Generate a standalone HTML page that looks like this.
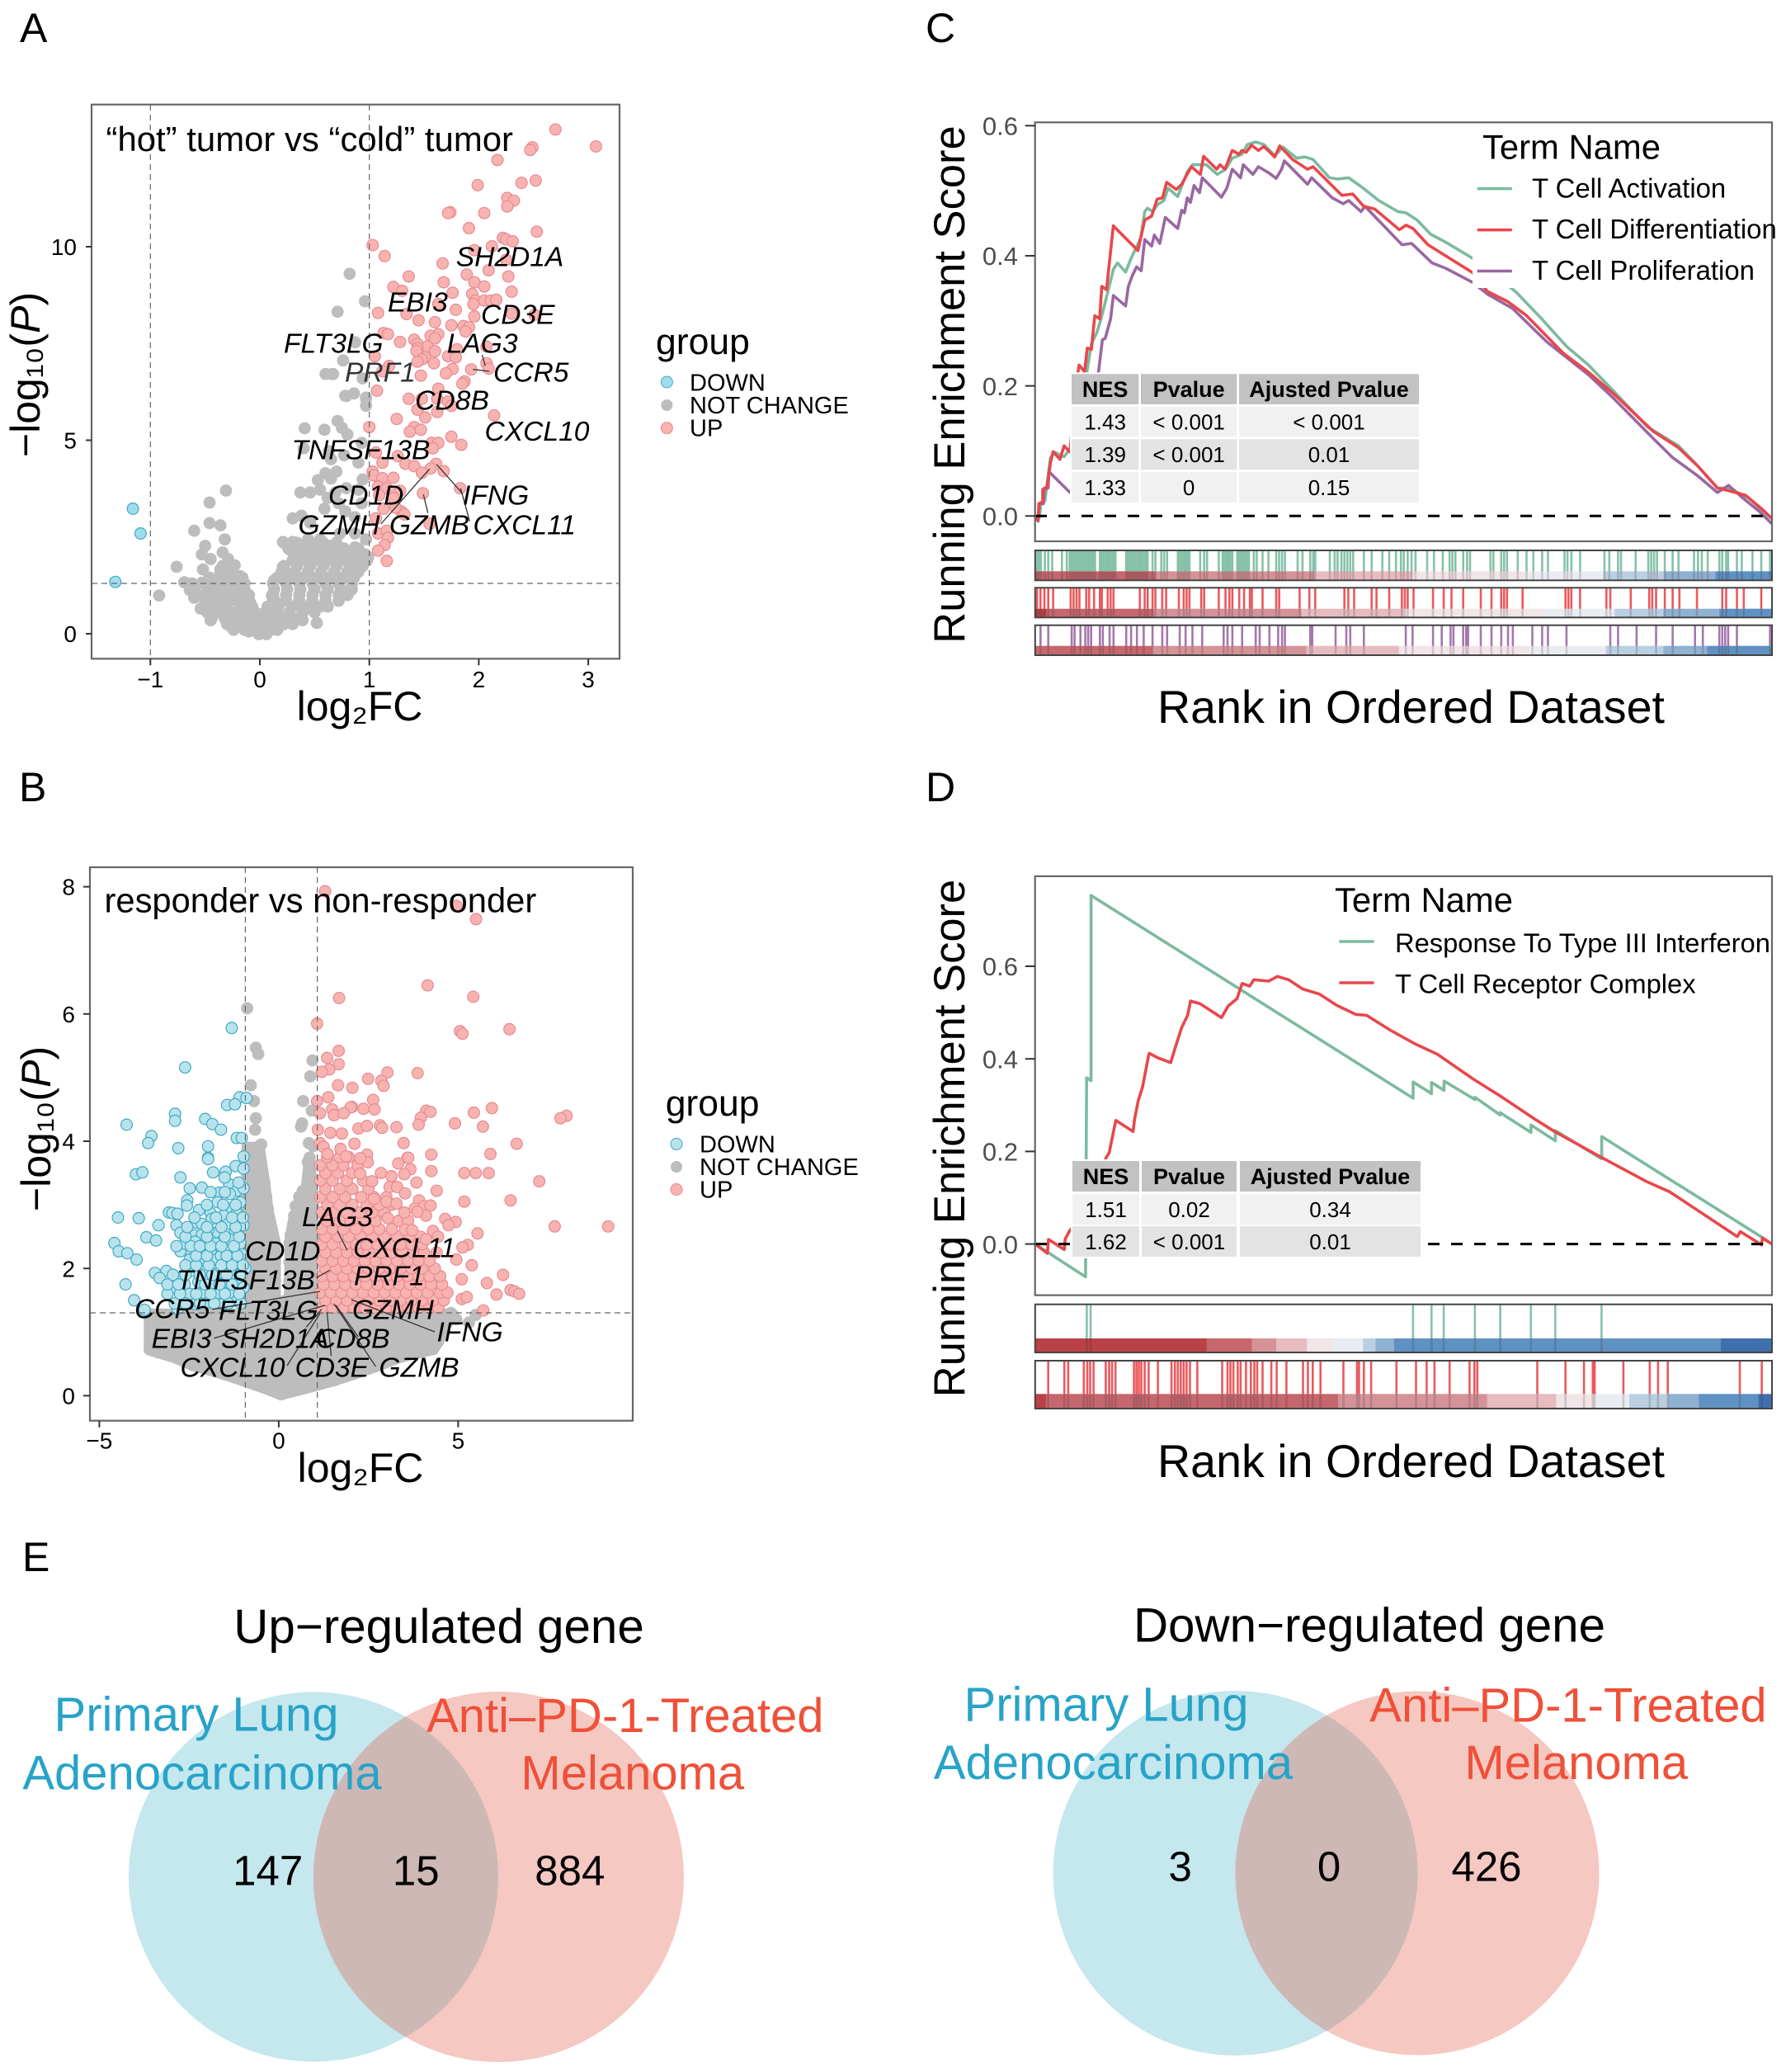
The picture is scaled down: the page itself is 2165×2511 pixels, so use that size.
<!DOCTYPE html>
<html lang="en">
<head>
<meta charset="utf-8">
<title>Volcano plots, GSEA curves and Venn diagrams</title>
<style>
html,body{margin:0;padding:0;background:#fff}
svg{display:block;font-family:"Liberation Sans",sans-serif}
.gene{font-style:italic;font-size:33.6px;fill:#000}
.lead{stroke:#333;stroke-width:1.3;fill:none}
.dash{stroke:#666;stroke-width:1.2;stroke-dasharray:7 5}
.frame{fill:none;stroke:#666;stroke-width:2.2}
.leg{font-size:29px;fill:#000}
.venn-a{font-size:58px;fill:#27a3c8}
.venn-b{font-size:58px;fill:#ef5038}
.vnum{font-size:51px;fill:#000;text-anchor:middle}
.mid{text-anchor:middle}
</style>
</head>
<body>
<svg id="figure" xmlns="http://www.w3.org/2000/svg" width="2165" height="2511" viewBox="0 0 2165 2511">
<rect x="0" y="0" width="2165" height="2511" fill="#fff"/>

<text x="24" y="51" font-size="50">A</text>
<text x="23" y="971" font-size="50">B</text>
<text x="1122" y="51" font-size="50">C</text>
<text x="1122" y="971" font-size="50">D</text>
<text x="27" y="1904" font-size="50">E</text>

<!-- Panel A -->
<g id="a-marks"></g>
<line class="dash" x1="182.3" y1="127" x2="182.3" y2="798"/>
<line class="dash" x1="447.7" y1="127" x2="447.7" y2="798"/>
<line class="dash" x1="111" y1="707" x2="751" y2="707"/>
<rect class="frame" x="111" y="126.7" width="640" height="671.6"/>
<g id="a-axes"></g>
<text x="128.5" y="183" font-size="41.9">“hot” tumor vs “cold” tumor</text>
<text class="mid" x="436" y="873" font-size="50">log₂FC</text>
<text class="mid" transform="rotate(-90 48 454)" x="48" y="454" font-size="50">−log₁₀(<tspan font-style="italic">P</tspan>)</text>
<g>
<line class="lead" x1="520.7" y1="568.3" x2="461.7" y2="635"/>
<line class="lead" x1="529.3" y1="562.7" x2="560.7" y2="598.3"/>
<line class="lead" x1="558.3" y1="591.7" x2="569.3" y2="631.7"/>
<line class="lead" x1="513.3" y1="599.3" x2="518.7" y2="621.7"/>
<line class="lead" x1="584.3" y1="430" x2="588.3" y2="443.3"/>
<line class="lead" x1="573.3" y1="447.7" x2="593.3" y2="450"/>
</g>
<g>
<text class="gene" x="552.7" y="322.3">SH2D1A</text>
<text class="gene" x="470" y="377.3">EBI3</text>
<text class="gene" x="583" y="392.3">CD3E</text>
<text class="gene" x="541.7" y="427.3">LAG3</text>
<text class="gene" x="344" y="427.3">FLT3LG</text>
<text class="gene" x="418" y="462.3" style="fill:#333">PRF1</text>
<text class="gene" x="598" y="462.3">CCR5</text>
<text class="gene" x="503.3" y="496.7">CD8B</text>
<text class="gene" x="587.5" y="534">CXCL10</text>
<text class="gene" x="353.5" y="556.7">TNFSF13B</text>
<text class="gene" x="398" y="611.7">CD1D</text>
<text class="gene" x="561" y="611.7">IFNG</text>
<text class="gene" x="361.5" y="647.3">GZMH</text>
<text class="gene" x="472" y="647.3">GZMB</text>
<text class="gene" x="573.5" y="647.3">CXCL11</text>
</g>
<g>
<text x="795" y="429" font-size="44.5">group</text>
<circle cx="808.4" cy="463" r="7" fill="#9fdcec" stroke="#3fa9c4"/>
<circle cx="808.4" cy="491" r="7" fill="#bdbdbd"/>
<circle cx="808.4" cy="518.7" r="7" fill="#f7b3b0" stroke="#e88a92"/>
<text class="leg" x="836" y="473.5">DOWN</text>
<text class="leg" x="836" y="501">NOT CHANGE</text>
<text class="leg" x="836" y="528.7">UP</text>
</g>

<!-- Panel B -->
<g id="b-marks"></g>
<line class="dash" x1="297.4" y1="1051" x2="297.4" y2="1721.7"/>
<line class="dash" x1="384.6" y1="1051" x2="384.6" y2="1721.7"/>
<line class="dash" x1="109" y1="1591" x2="767" y2="1591"/>
<rect class="frame" x="109" y="1051" width="658" height="670.7"/>
<g id="b-axes"></g>
<text x="126.5" y="1105.7" font-size="41.7">responder vs non-responder</text>
<text class="mid" x="437" y="1796" font-size="50">log₂FC</text>
<text class="mid" transform="rotate(-90 61 1368)" x="61" y="1368" font-size="50">−log₁₀(<tspan font-style="italic">P</tspan>)</text>
<g>
<line class="lead" x1="409" y1="1491.7" x2="420.9" y2="1515"/>
<line class="lead" x1="383.8" y1="1548.3" x2="399.8" y2="1539.3"/>
<line class="lead" x1="388" y1="1565" x2="257.4" y2="1586.7"/>
<line class="lead" x1="394.3" y1="1581.7" x2="259.5" y2="1621.7"/>
<line class="lead" x1="390" y1="1586.7" x2="371.2" y2="1608.3"/>
<line class="lead" x1="396.4" y1="1590" x2="401.5" y2="1643.3"/>
<line class="lead" x1="388" y1="1591.7" x2="348" y2="1655"/>
<line class="lead" x1="404.9" y1="1580" x2="455.4" y2="1656"/>
<line class="lead" x1="407" y1="1581.7" x2="434.3" y2="1620"/>
<line class="lead" x1="426" y1="1575" x2="527" y2="1614"/>
</g>
<g>
<text class="gene" x="366" y="1486">LAG3</text>
<text class="gene" x="297" y="1527.3">CD1D</text>
<text class="gene" x="428" y="1523.3">CXCL11</text>
<text class="gene" x="214" y="1562.7">TNFSF13B</text>
<text class="gene" x="429" y="1557.7">PRF1</text>
<text class="gene" x="163" y="1597.3">CCR5</text>
<text class="gene" x="265" y="1599.3">FLT3LG</text>
<text class="gene" x="427" y="1598.3">GZMH</text>
<text class="gene" x="183.6" y="1633.3">EBI3</text>
<text class="gene" x="268" y="1633.3">SH2D1A</text>
<text class="gene" x="383" y="1633.3">CD8B</text>
<text class="gene" x="529.5" y="1625.7">IFNG</text>
<text class="gene" x="218.5" y="1668.3">CXCL10</text>
<text class="gene" x="357.5" y="1668.3">CD3E</text>
<text class="gene" x="459.5" y="1668.3">GZMB</text>
</g>
<g>
<text x="806.7" y="1352" font-size="44.5">group</text>
<circle cx="820" cy="1386.4" r="7" fill="#b9e3ec" stroke="#3fa9c4"/>
<circle cx="820" cy="1414" r="7" fill="#bdbdbd"/>
<circle cx="820" cy="1441.5" r="7" fill="#f7b3b0" stroke="#e88a92"/>
<text class="leg" x="848" y="1396.5">DOWN</text>
<text class="leg" x="848" y="1424">NOT CHANGE</text>
<text class="leg" x="848" y="1451.5">UP</text>
</g>

<!-- Panel C -->
<g id="c-curves"></g>
<line x1="1255" y1="625.3" x2="2148" y2="625.3" stroke="#000" stroke-width="3" stroke-dasharray="14 14"/>
<rect x="1785" y="150" width="362" height="199" fill="#fff"/>
<rect class="frame" x="1254.7" y="148.3" width="893.3" height="507.7"/>
<g id="c-axes"></g>
<g id="c-strips"></g>
<g id="c-table"></g>
<text class="mid" transform="rotate(-90 1169 466)" x="1169" y="466" font-size="52.5">Running Enrichment Score</text>
<text class="mid" x="1710.5" y="876" font-size="55.6">Rank in Ordered Dataset</text>
<g>
<text x="1797" y="192.4" font-size="41.8">Term Name</text>
<line x1="1790.7" x2="1832.8" y1="228.6" y2="228.6" stroke="#7cba9f" stroke-width="3.5"/>
<line x1="1790.7" x2="1832.8" y1="278.6" y2="278.6" stroke="#e8474c" stroke-width="3.5"/>
<line x1="1790.7" x2="1832.8" y1="328.5" y2="328.5" stroke="#9a67a2" stroke-width="3.5"/>
<text x="1857" y="239.5" font-size="32.9">T Cell Activation</text>
<text x="1857" y="289" font-size="32.9">T Cell Differentiation</text>
<text x="1857" y="339" font-size="32.9">T Cell Proliferation</text>
</g>

<!-- Panel D -->
<g id="d-curves"></g>
<line x1="1255" y1="1507.6" x2="2148" y2="1507.6" stroke="#000" stroke-width="3" stroke-dasharray="14 14"/>
<rect class="frame" x="1254.7" y="1061.9" width="893.3" height="507.7"/>
<g id="d-axes"></g>
<g id="d-strips"></g>
<g id="d-table"></g>
<text class="mid" transform="rotate(-90 1169 1379.5)" x="1169" y="1379.5" font-size="52.5">Running Enrichment Score</text>
<text class="mid" x="1710.5" y="1790" font-size="55.6">Rank in Ordered Dataset</text>
<g>
<text x="1618" y="1105" font-size="41.8">Term Name</text>
<line x1="1623.4" x2="1665.6" y1="1141" y2="1141" stroke="#7cba9f" stroke-width="3.5"/>
<line x1="1623.4" x2="1665.6" y1="1191" y2="1191" stroke="#e8474c" stroke-width="3.5"/>
<text x="1691" y="1153.8" font-size="32.7">Response To Type III Interferon</text>
<text x="1691" y="1203.7" font-size="32.7">T Cell Receptor Complex</text>
</g>

<!-- Panel E -->
<g>
<circle cx="380" cy="2274.5" r="224" fill="#c5e7ee"/>
<circle cx="604.4" cy="2274.5" r="224.5" fill="rgb(225,88,70)" fill-opacity="0.33"/>
<text class="mid" x="532" y="1991" font-size="58.3">Up−regulated gene</text>
<text class="venn-a mid" x="238" y="2097.6">Primary Lung</text>
<text class="venn-a mid" x="245" y="2168.3">Adenocarcinoma</text>
<text class="venn-b mid" x="757.8" y="2098.9">Anti–PD-1-Treated</text>
<text class="venn-b mid" x="766.8" y="2168.3">Melanoma</text>
<text class="vnum" x="324.7" y="2284.6">147</text>
<text class="vnum" x="504.3" y="2284.6">15</text>
<text class="vnum" x="690.8" y="2284.6">884</text>
</g>
<g>
<circle cx="1497.6" cy="2270" r="221" fill="#c5e7ee"/>
<circle cx="1718" cy="2270" r="220.5" fill="rgb(225,88,70)" fill-opacity="0.33"/>
<text class="mid" x="1660" y="1989.6" font-size="58.3">Down−regulated gene</text>
<text class="venn-a mid" x="1341" y="2085.6">Primary Lung</text>
<text class="venn-a mid" x="1349.5" y="2155.8">Adenocarcinoma</text>
<text class="venn-b mid" x="1901" y="2086.4">Anti–PD-1-Treated</text>
<text class="venn-b mid" x="1910.8" y="2155.8">Melanoma</text>
<text class="vnum" x="1430.7" y="2279.6">3</text>
<text class="vnum" x="1611" y="2279.6">0</text>
<text class="vnum" x="1802" y="2279.6">426</text>
</g>
</svg>

<script>
/* ===== Panel A data: [log2FC, -log10P] ===== */
const aXTicks=[-1,0,1,2,3];
const aYTicks=[0,5,10];
const aDown=[[-1.16,3.23],[-1.09,2.59],[-1.32,1.34]];
const aGrey=[[.82,9.30],[.96,8.59],[.71,8.32],[.87,7.53],[.76,7.06],[.67,6.71],[.94,6.60],[.78,6.15],[.86,6.21],[.97,6.10],[.60,6.71],[.66,6.71],[.79,6.14],[.97,6.07],[.97,5.89],
[.71,5.50],[.41,5.31],[.59,5.27],[.75,5.32],[.80,5.15],[.93,4.93],[.40,4.79],[.63,4.72],[.77,4.61],[.90,4.42],[.65,4.51],[.60,4.15],[.70,4.19],[.53,3.97],[.65,4.01],[.94,3.99],[.37,3.65],[.46,3.65],[.55,3.72],[.62,3.51],[.69,3.65],[.79,3.76],[.90,3.72],[.93,3.37],[.72,3.37],[.59,3.23],[.78,3.16],[.87,3.01],[.30,2.98],[.38,3.05],[.46,2.87],[.73,2.59],[.87,2.59],
[-.31,3.70],[-.46,3.39],[-.46,2.86],[-.36,2.80],[-.60,2.66],[-.32,2.44],[-.50,2.27],[-.53,2.05],[-.34,2.10],[-.45,1.93],[-.29,1.93],[-.76,1.73],[-.23,1.77],[-.52,1.66],[-.36,1.66],[-.18,1.49],[-.46,1.41],[-.69,1.33],[-.53,1.32],[-.29,1.38],[-.14,1.31],[-.92,.99],[-.64,1.13],[-.60,.93],[-.46,1.02],[-.40,.92],[-.54,.65],[-.44,.74],[-.45,.35],[-.31,1.09],[-.19,1.06],[-.24,.88],[-.09,.81],[-.30,.63],[-.14,.67],[-.06,.49],[-.31,.35],[-.25,.14],[-.19,.28],[-.10,.06],[-.01,-.01],[-.11,.31],[-.04,.28],
[.04,.53],[.09,.24],[.06,-.01],[.16,.14],[.29,.28],[.21,.42],[.39,.35],[.52,.28],[.13,.88],[.11,.99],[.13,1.38],[.21,1.73],[.21,2.37],[.30,2.37],[.28,2.16],[.33,1.88],[.26,1.52],[.44,2.44],[.55,2.44],[.64,2.27],[.72,2.16],[.44,2.09],[.54,2.02],[.77,2.20],[.87,2.23],[.97,2.44],[.99,1.98],[.92,2.09]];
const aGreyRows=[
[1.75,[-.34,-.26]],[1.6,[-.36,-.26]],[1.45,[-.46,-.36,-.24,-.16]],
[1.3,[-.62,-.5,-.4,-.3,-.2,.12,.24,.36,.48,.6,.72,.84]],
[1.15,[-.6,-.48,-.36,-.24,-.14,.13,.25,.37,.5,.62,.74,.84]],
[1.0,[-.52,-.42,-.3,-.2,-.1,.12,.24,.36,.48,.6,.72,.8]],
[.85,[-.5,-.4,-.3,-.2,-.1,.12,.24,.36,.48,.6,.72]],
[.7,[-.5,-.4,-.3,-.18,-.07,.07,.17,.3,.42,.55,.62]],
[.55,[-.48,-.36,-.26,-.14,-.04,.05,.15,.27,.39,.5]],
[.4,[-.44,-.32,-.22,-.1,.04,.14,.25,.36]],
[.25,[-.3,-.2,-.08,.03,.12,.22,.3]],
[.1,[-.24,-.14,-.04,.03,.1,.16]],
[1.45,[.16,.28,.4,.52,.64,.76,.86]],
[1.6,[.2,.32,.44,.56,.68,.8,.9]],
[1.75,[.22,.34,.46,.58,.7,.82,.94]],
[1.9,[.3,.42,.54,.66,.78,.9,.98]],
[2.05,[.36,.48,.6,.72,.84,.96]],
[2.2,[.26,.4,.52,.64,.76,.9]],
[2.35,[.22,.34,.46,.58,.7]]];
const aUp=[[2.70,13.03],[3.07,12.59],[2.49,12.57],[2.47,12.50],[2.17,12.24],[2.39,11.65],[2.52,11.71],[1.99,11.59],[2.26,11.26],[2.32,11.19],[2.26,11.04],[1.74,10.89],[1.72,10.87],[2.05,10.87],[1.91,10.48],[2.53,10.39],[2.22,10.23],[2.25,10.19],[2.31,10.14],[1.03,10.04],[2.12,10.01],[1.96,9.91],[1.14,9.76],[1.67,9.57],[2.25,9.66],[2.09,9.39],[1.89,9.28],[1.36,9.23],[2.27,9.23],[1.68,9.08],[1.96,9.08],[2.05,8.97],[1.22,8.96],[1.30,8.86],[2.30,8.84],[1.76,8.81],[1.94,8.78],[1.97,8.61],[2.05,8.61],[2.11,8.61],[2.16,8.63],[1.95,8.52],[1.63,8.52],[1.79,8.37],[1.08,8.29],[1.34,8.26],[2.30,8.27],[2.51,8.24],[1.96,8.20],[1.45,8.10],[1.60,8.05],[1.75,7.97],[1.86,7.95],[1.91,7.92],[1.88,7.81],[1.13,7.77],[1.17,7.74],[1.63,7.74],[1.56,7.70],[1.60,7.63],[1.28,7.54],[1.41,7.60],[1.44,7.49],[1.53,7.42],[2.07,7.42],[1.44,7.38],[1.43,7.31],[1.60,7.30],[1.80,7.35],[1.05,7.17],[1.51,7.14],[1.72,7.17],[1.79,7.14],[1.48,7.09],[1.44,7.03],[1.59,6.99],[2.07,6.99],[1.18,6.92],[1.93,6.83],[2.09,6.85],[1.76,6.84],[1.70,6.73],[1.12,6.78],[1.47,6.67],[1.87,6.52],[1.85,6.46],[1.07,6.28],[1.63,6.33],[1.36,6.07],
[1.48,6.07],[1.62,6.07],[1.72,6.00],[1.44,5.79],[1.51,5.59],[1.62,5.73],[1.75,5.89],[2.14,5.64],[1.25,5.55],[1.00,5.34],[1.41,5.34],[1.37,5.22],[1.47,5.27],[1.75,5.09],[1.84,4.88],[1.57,4.93],[1.63,4.93],[1.58,4.79],[1.06,4.68],[1.26,4.59],[1.12,4.42],[1.33,4.39],[1.41,4.33],[1.61,4.39],[1.56,4.27],[1.48,4.16],[1.68,4.20],[1.03,4.19],[1.04,4.09],[1.12,4.02],[1.22,4.03],[1.83,3.76],[1.49,3.63],[1.08,3.80],[1.16,3.76],[1.21,3.65],[1.28,3.69],[1.09,3.58],[1.22,3.51],[1.13,3.23],[1.29,3.16],[1.32,3.08],[1.24,3.26],[1.55,2.84],[1.06,2.98],[1.08,2.59],[1.16,2.66],[1.17,2.48],[1.14,2.29],[1.08,2.15],[1.16,1.88]];

/* ===== Panel B data ===== */
const bXTicks=[-5,0,5];
const bYTicks=[0,2,4,6,8];
const bDown=[[-1.31,5.78],[-2.61,5.16],[-1.09,4.69],[-.90,4.68],[-1.44,4.57],[-1.22,4.58],[-2.89,4.43],[-2.89,4.32],[-2.05,4.35],[-1.85,4.27],[-1.61,4.18],[-4.24,4.26],[-3.55,4.08],[-3.64,3.97],[-2.80,3.89],[-1.97,3.92],[-1.17,4.05],[-1.03,4.05],[-.98,3.76],[-1.97,3.74],[-1.97,3.72],[-3.98,3.48],[-3.80,3.51],[-2.74,3.43],[-1.83,3.51],[-1.48,3.52],[-1.20,3.61],[-.98,3.57],[-2.48,3.26],[-2.14,3.27],[-1.38,3.32],[-1.17,3.22],[-1.66,3.19],[-1.70,3.04],[-2.55,3.07],[-2.56,2.99],[-1.36,2.94],[-2.22,2.92],[-3.06,2.88],[-2.96,2.87],[-2.82,2.86],[-1.90,2.87],[-4.48,2.80],[-3.90,2.79],[-3.35,2.68],[-2.85,2.68],[-2.28,2.72],[-2.14,2.70],[-1.87,2.78],[-.98,2.68],[-2.74,2.56],[-2.36,2.52],[-2.14,2.53],[-1.70,2.57],[-1.22,2.57],[-3.69,2.49],[-3.42,2.44],[-4.58,2.40],[-4.46,2.27],[-4.22,2.24],[-3.96,2.14],[-2.74,2.27],[-2.43,2.24],[-1.90,2.27],[-1.56,2.44],[-1.36,2.46],[-2.48,2.14],[-2.16,2.16],[-1.75,2.14],[-1.32,2.18],[-1.17,2.07],[-3.45,1.93],[-3.13,1.96],[-3.32,1.85],[-4.27,1.75],[-4.03,1.50],[-3.74,1.35],[-2.77,1.85],[-2.43,1.96],[-2.04,1.96],[-1.66,1.94],[-1.27,1.92],[-2.96,1.70],[-2.62,1.75],[-2.24,1.79],[-1.85,1.77],[-1.46,1.79],[-1.12,1.77],[-2.48,1.60],[-2.09,1.62],[-1.70,1.62],[-1.32,1.60],[-2.33,1.44],[-1.95,1.47],[-1.56,1.44],[-1.17,1.49],[-2.82,1.36],[-2.62,2.39],[-2.33,2.42],[-2.04,2.40],[-1.75,2.39],[-1.07,2.39],[-1.17,2.87],[-1.07,3.04],[-1.53,2.83],[-1.96,2.61],[-1.41,2.70],[-1.61,2.20],[-.98,3.26],[-1.12,3.35],[-1.36,3.17],[-1.51,3.43],[-1.03,2.22],[-.98,1.70],[-.93,2.0]];
const bDownRows=[
[1.45,[-2.9,-2.6,-2.2,-1.8,-1.4,-1.05]],
[1.6,[-3.1,-2.75,-2.3,-1.9,-1.5,-1.1]],
[1.75,[-3.1,-2.8,-2.05,-1.65,-1.3]],
[1.9,[-2.95,-2.6,-2.2,-1.85,-1.45,-1.08]],
[2.05,[-2.6,-2.3,-1.95,-1.6,-1.3,-1.0]],
[2.2,[-2.3,-2.0,-1.45,-1.15]],
[2.35,[-2.85,-2.45,-2.2,-1.9,-1.6,-1.25]],
[2.5,[-2.6,-2.0,-1.5,-1.1]],
[2.65,[-2.55,-2.0,-1.6,-1.2]],
[2.8,[-2.35,-1.75,-1.3,-1.0]],
[3.0,[-2.0,-1.55,-1.2]],
[3.2,[-1.9,-1.5]]];
const bGreyEnvelope=[[-3.6,1.28],[-3.6,.72],[-2.9,.6],[-2.4,.48],[-1.65,.36],[-1,.24],[-.4,.12],[.06,.02],[.76,.12],[1.54,.24],[2.2,.36],[2.8,.48],[3.35,.6],[4.3,.73],[4.45,.85],[4.6,1.1],[4.85,1.22],[4.85,1.28],[.95,1.28],[.95,3.0],[.86,3.7],[.72,3.0],[.43,2.8],[.33,2.5],[.3,1.5],[.15,1.38],[-.1,1.38],[-.1,2.4],[-.3,2.9],[-.4,3.35],[-.55,3.9],[-.88,3.9],[-.88,1.28]];
const bGreySparse=[[-.88,6.09],[-.64,5.47],[-.57,5.37],[.94,5.27],[.88,5.02],[-.78,4.88],[-.69,4.63],[.68,4.63],[.92,4.48],[-.64,4.36],[.65,4.28],[.62,4.23],[-.66,4.18],[.84,3.97],[.96,3.92],[-.49,3.95],[-.59,3.91],[-.83,3.84],[.86,3.74],[-.78,3.87],[-.59,3.78],[-.88,3.69],[-.69,3.61],[-.88,3.48],[-.49,3.43],[-.74,3.35],[-.40,3.35],[-.88,3.22],[-.59,3.22],[-.35,3.13],[-.83,3.04],[-.49,3.04],[-.30,2.94],[-.88,2.87],[-.59,2.87],[-.30,2.85],[-.83,2.70],[-.54,2.70],[-.25,2.65],[-.88,2.55],[-.59,2.53],[-.30,2.50],[.86,3.74],[.81,3.67],[.86,3.39],[.96,3.35],[.67,3.22],[.86,3.22],[.57,3.13],[.81,3.09],[.47,2.98],[.72,2.98],[.96,2.98],[.43,2.83],[.67,2.83],[.91,2.83],[.33,2.53],[.57,2.53],[.81,2.53],[1.01,2.53],[.47,2.68],[.72,2.68],[.96,2.68],[5.49,1.27],[5.3,1.15],[4.95,1.2],[4.8,1.3]];
const bGreyRows=[
[2.40,[-.9,-.65,-.4,-.2,.3,.5,.7,.95]],
[2.10,[-.9,-.65,-.4,-.1,.3,.5,.75,.95]],
[1.80,[-.9,-.65,-.35,-.1,.3,.5,.75,.95]],
[1.50,[-.85,-.6,-.3,-.05,.2,.5,.75,.95]],
[1.22,[-3.6,-3.3,-3,-2.7,-2.4,-2.1,-1.8,-1.5,-1.2,-.9,-.6,-.3,0,.3,.6,.9,1.2,1.5,1.8,2.1,2.4,2.7,3,3.3,3.6,3.9,4.2,4.5,4.8]],
[.98,[-3.5,-3.2,-2.9,-2.6,-2.3,-2,-1.7,-1.4,-1.1,-.8,-.5,-.2,.1,.4,.7,1,1.3,1.6,1.9,2.2,2.5,2.8,3.1,3.4,3.7,4,4.3,4.5]],
[.73,[-3.6,-3.3,-3,-2.6,-2.3,-2,-1.7,-1.4,-1.1,-.8,-.5,-.2,.1,.4,.7,1,1.3,1.6,1.9,2.2,2.5,2.8,3.1,3.4,3.7,4,4.3]],
[.48,[-2.4,-2.15,-1.85,-1.55,-1.25,-.95,-.65,-.35,-.05,.25,.55,.85,1.15,1.45,1.75,2.05,2.35,2.55,2.8]],
[.24,[-1,-.75,-.45,-.15,.15,.45,.75,1.05,1.3,1.54]],
[.02,[.06]]];
const bUpSparse=[[1.29,7.93],[4.95,7.70],[5.50,7.49],[4.15,6.45],[5.42,6.27],[1.68,6.25],[1.07,5.85],[5.05,5.73],[5.12,5.69],[6.43,5.76],[1.67,5.42],[1.35,5.31],[1.67,5.21],[1.41,5.13],[1.20,5.09],[3.03,5.08],[3.87,5.07],[2.49,4.98],[2.86,4.95],[2.92,4.87],[1.65,4.88],[2.05,4.84],[1.38,4.69],[1.07,4.63],[2.63,4.65],[1.49,4.50],[2.04,4.54],[2.00,4.53],[2.36,4.51],[2.67,4.50],[1.15,4.44],[1.54,4.41],[1.81,4.44],[4.11,4.48],[4.23,4.46],[5.94,4.52],[5.44,4.45],[8.02,4.40],[7.85,4.36],[3.96,4.37],[3.90,4.26],[4.91,4.28],[5.69,4.23],[2.22,4.20],[2.46,4.24],[2.82,4.25],[2.88,4.21],[3.28,4.22],[1.09,4.18],[1.44,4.13],[1.76,4.12],[1.15,3.97],[1.25,3.91],[2.11,3.96],[1.72,3.88],[3.48,3.97],[6.63,3.96],[2.46,3.79],[4.25,3.79],[5.90,3.80],[3.59,3.74],[1.36,3.80],[1.88,3.76],
[3.61,3.74],[3.33,3.65],[2.48,3.67],[2.27,3.73],[3.67,3.56],[3.50,3.48],[4.25,3.53],[5.17,3.50],[5.49,3.50],[5.85,3.50],[7.26,3.37],[2.85,3.50],[3.14,3.45],[2.27,3.49],[3.84,3.35],[2.60,3.37],[3.09,3.28],[3.30,3.28],[4.40,3.22],[3.52,3.18],[5.17,3.05],[6.46,3.07],[3.91,3.07],[2.65,3.09],[3.01,3.05],[3.28,3.02],[3.79,2.94],[4.05,2.98],[4.23,2.99],[4.10,2.83],[3.86,2.89],[3.04,2.79],[4.64,2.78],[4.93,2.73],[4.73,2.68],[7.69,2.66],[9.18,2.66],[3.52,2.61],[3.72,2.60],[4.30,2.59],[5.54,2.55],[4.10,2.46],[4.44,2.50],[5.27,2.37],[5.12,2.33],[4.95,2.14],[5.38,2.05],[6.25,1.90],[5.10,1.83],[5.80,1.77],[6.46,1.66],[6.57,1.64],[6.70,1.60],[6.07,1.59],[5.10,1.52],[5.24,1.55],[5.70,1.34]];
const bUpRows=[
[1.38,[1.2,1.5,1.8,2.1,2.4,2.7,3.0,3.3,3.6,3.9,4.2,4.45]],
[1.50,[1.3,1.6,1.9,2.2,2.5,2.8,3.1,3.4,3.7,4.0,4.3,4.6]],
[1.62,[1.15,1.45,1.75,2.05,2.35,2.65,2.95,3.25,3.55,3.85,4.15,4.5,4.7]],
[1.75,[1.25,1.55,1.85,2.15,2.45,2.75,3.05,3.35,3.65,3.95,4.25,4.55]],
[1.88,[1.2,1.5,1.8,2.1,2.4,2.7,3.0,3.3,3.6,3.9,4.2,4.5]],
[2.00,[1.3,1.6,1.9,2.2,2.5,2.8,3.1,3.4,3.7,4.0,4.35]],
[2.12,[1.2,1.5,1.8,2.1,2.4,2.7,3.0,3.3,3.6,3.9,4.2]],
[2.25,[1.3,1.6,1.9,2.2,2.5,2.85,3.15,3.45,3.75,4.05,4.4]],
[2.38,[1.2,1.5,1.85,2.15,2.45,2.75,3.1,3.4,3.7,4.0]],
[2.50,[1.3,1.65,1.95,2.3,2.6,2.95,3.3,3.65,3.95]],
[2.62,[1.2,1.5,1.8,2.15,2.5,2.8,3.15]],
[2.75,[1.35,1.7,2.0,2.35,2.7,3.35,3.6]],
[2.88,[1.2,1.55,1.9,2.25,2.6,2.95,3.5]],
[3.00,[1.35,1.7,2.05,2.45,2.8,3.15]],
[3.12,[1.15,1.5,1.85,2.3,2.65,3.0]],
[3.25,[1.3,1.7,2.05,2.5]],
[3.38,[1.15,1.5,1.9,2.35]],
[3.50,[1.3,1.65,2.05]],
[3.62,[1.15,1.5,1.8,2.2]],
[3.75,[1.35,1.7,1.95]]];

/* ===== Panel C data: [rank percent, running score] ===== */
const cYTicks=[0,0.2,0.4,0.6];
const cActivation=[[0,0],[.59,-.002],[.78,.017],[1.34,.024],[2.08,.089],[2.64,.098],[3.94,.091],[4.75,.104],[5.6,.172],[6.54,.214],[6.98,.218],[7.65,.265],[8.39,.282],[8.95,.303],[9.88,.345],[10.62,.379],[11.18,.389],[12.29,.375],[13.03,.396],[14.33,.427],[14.89,.468],[15.26,.473],[16,.468],[16.56,.478],[17.49,.485],[18.05,.504],[19.35,.491],[20.65,.529],[21.39,.540],[23.25,.540],[24.73,.525],[25.85,.533],[26.77,.550],[28.07,.556],[28.82,.571],[29.93,.575],[31.04,.571],[32.53,.554],[33.64,.567],[35.5,.550],[36.61,.552],[37.73,.548],[39.95,.520],[41.07,.518],[42.55,.520],[44.41,.505],[46.64,.485],[49.24,.468],[50.35,.466],[51.84,.455],[53.7,.433],[55.7,.421],[59.4,.396],[65.2,.345],[68.6,.305],[72.1,.261],[75.1,.232],[78.5,.192],[83.1,.137],[87.3,.108],[90,.076],[92.6,.043],[94.1,.043],[96.8,.028],[100,-.004]];
const cDifferentiation=[[0,0],[.41,-.006],[.52,.019],[1.04,.022],[1.04,.041],[1.63,.045],[2.08,.081],[2.45,.099],[3.38,.087],[3.94,.108],[4.75,.098],[5.42,.193],[5.98,.232],[6.72,.222],[7.09,.258],[7.65,.256],[8.1,.308],[8.76,.303],[9.06,.353],[9.69,.348],[10.62,.446],[13.96,.408],[14.89,.455],[15.82,.461],[16.56,.487],[17.3,.489],[17.86,.513],[19.16,.502],[19.9,.510],[21.2,.537],[22.43,.525],[22.87,.553],[24.66,.533],[25.1,.540],[25.77,.533],[26.77,.562],[27.7,.556],[28.07,.562],[28.63,.559],[29.37,.570],[30.3,.562],[31.04,.568],[32.53,.552],[33.2,.569],[34.94,.548],[36.98,.533],[37.73,.537],[41.63,.493],[43.11,.495],[44.6,.476],[46.08,.472],[47.75,.456],[49.42,.440],[50.35,.447],[51.28,.442],[53.32,.417],[59.4,.374],[61.4,.345],[64.1,.330],[66.7,.308],[71.7,.250],[75.1,.221],[78.5,.188],[83.9,.130],[87.3,.105],[90,.076],[92.6,.043],[94.1,.039],[96.4,.032],[98.7,.010],[100,-.004]];
const cProliferation=[[0,0],[.41,-.008],[.59,.019],[1.15,.019],[1.26,.041],[1.78,.043],[1.89,.068],[4.75,.036],[6.5,.030],[7.5,.12],[8.58,.218],[9.13,.271],[9.51,.273],[10.25,.303],[10.62,.339],[12.29,.323],[12.66,.353],[13.22,.370],[13.78,.383],[14.41,.377],[14.89,.425],[15.82,.415],[16.19,.432],[16.93,.419],[17.68,.459],[19.35,.442],[19.9,.470],[20.27,.466],[20.65,.489],[21.09,.482],[21.57,.508],[22.32,.497],[22.69,.520],[25.29,.490],[26.03,.504],[26.77,.533],[27.89,.520],[28.26,.540],[29.56,.525],[30.3,.537],[31.79,.527],[32.71,.519],[33.46,.533],[33.83,.546],[36.98,.510],[37.54,.520],[40.33,.489],[41.81,.480],[42.55,.485],[44.23,.468],[44.78,.476],[49.8,.417],[51.1,.419],[53.88,.389],[55.7,.381],[59.4,.359],[61.4,.341],[64.8,.319],[69.4,.268],[75.1,.217],[78.5,.181],[83.9,.119],[86.5,.090],[90,.061],[92.6,.036],[94.1,.047],[96,.028],[98.3,.007],[100,-.012]];
const cStripActivation=[4,8,12,20,27,35,55,65,71,75,79,83,87,91,95,99,103,107,111,115,119,123,133,137,141,145,149,153,157,161,165,187,191,195,199,203,207,211,215,219,223,227,231,241,247,259,265,271,293,297,301,305,309,313,317,339,347,353,377,385,389,393,397,401,405,415,419,423,427,431,435,439,449,455,467,479,495,501,507,513,539,549,565,571,575,605,615,621,629,635,641,647,653,675,691,713,727,741,751,757,765,773,781,805,819,837,851,857,863,879,887,893,935,941,957,963,969,991,1009,1023,1041,1053,1087,1093,1101,1119,1169,1179,1197,1203,1233,1259,1265,1271,1277,1293,1309,1321,1353,1361,1369,1381,1405,1411,1419,1423,1441,1451,1473,1491,1509];
const cStripDifferentiation=[4,11,19,27,37,73,79,85,91,105,111,121,133,137,149,155,161,215,225,231,241,247,261,269,295,305,311,317,341,347,377,391,399,405,419,429,441,445,467,495,501,543,563,575,635,643,655,691,701,727,753,759,765,777,817,839,855,879,915,937,957,963,969,1001,1089,1095,1101,1119,1173,1181,1223,1261,1267,1275,1293,1309,1323,1359,1411,1419,1441,1455,1491];
const cStripProliferation=[11,27,75,81,93,103,109,115,133,139,153,161,187,197,209,223,241,261,271,297,309,323,343,387,395,405,425,453,461,481,499,507,513,565,569,617,639,647,675,761,775,817,835,853,859,879,885,889,915,937,957,971,981,1021,1041,1053,1091,1181,1197,1235,1275,1309,1355,1371,1405,1411,1417,1423,1441,1509];
const cBandActivation=[0,247,573,775,1005,1167,1291,1397,1513];
const cBandDifferentiation=[0,23,243,547,757,1043,1190,1290,1405,1513];
const cBandProliferation=[0,240,557,747,1015,1172,1290,1380,1513];
const cTableHeader=["NES","Pvalue","Ajusted Pvalue"];
const cTableRows=[["1.43","< 0.001","< 0.001"],["1.39","< 0.001","0.01"],["1.33","0","0.15"]];

/* ===== Panel D data ===== */
const dYTicks=[0,0.2,0.4,0.6];
const dInterferon=[[0,0],[6.85,-.071],[7,.359],[7.6,.353],[7.6,.753],[51.3,.315],[51.3,.350],[53.8,.325],[53.8,.349],[55.5,.332],[55.5,.352],[59.7,.312],[59.7,.317],[63.1,.279],[63.1,.284],[67.3,.241],[67.3,.257],[70.6,.223],[70.6,.245],[76.9,.184],[76.9,.232],[98.6,.015],[100,0]];
const dReceptor=[[0,0],[1.67,-.02],[1.83,.01],[3.96,-.012],[4.1,.011],[4.7,.029],[6.5,.06],[8.5,.14],[9.66,.187],[10.05,.197],[10.96,.267],[13.3,.243],[13.5,.269],[14,.31],[14.6,.34],[15.4,.407],[15.5,.412],[16.7,.402],[18.4,.392],[19.2,.433],[19.9,.468],[20.7,.494],[21.1,.525],[22.4,.519],[25.3,.489],[26.2,.514],[27.4,.530],[28.1,.563],[29.1,.557],[29.7,.571],[31.7,.568],[32.9,.578],[34.4,.571],[36.3,.551],[38.6,.540],[40.9,.516],[43.5,.496],[45,.494],[48.1,.463],[51.5,.433],[54.6,.410],[59.5,.356],[63.3,.318],[67.9,.269],[70.5,.243],[76.3,.192],[83.1,.134],[86.1,.113],[95.3,.016],[95.7,.027],[98.6,-.002],[98.7,.013],[100,0]];
const dStripInterferon=[106,114,776,814,839,903,955,1018,1068,1163];
const dStripReceptor=[27,60,68,100,107,113,120,145,152,158,165,203,208,213,218,225,233,252,280,287,293,299,305,311,318,333,384,395,401,407,416,422,433,443,450,456,467,485,496,516,550,560,570,586,633,661,665,675,690,742,782,804,820,851,892,902,908,1031,1089,1127,1145,1149,1208,1262,1279,1299,1447,1492];
const dBandInterferon=[0,352,445,495,558,610,673,699,737,1408,1513];
const dBandReceptor=[0,22,622,928,1070,1150,1220,1300,1363,1485,1513];
const dTableHeader=["NES","Pvalue","Ajusted Pvalue"];
const dTableRows=[["1.51","0.02","0.34"],["1.62","< 0.001","0.01"]];

/* ===== axis functions ===== */
const axA=v=>315+132.7*v, ayA=v=>768-46.9*v;
const axB=v=>337.9+43.5*v, ayB=v=>1691.4-77.1*v;
const rankX=r=>1254.7+8.933*r;
const ayC=v=>625.3-788.3*v;
const ayD=v=>1507.6-561*v;
const stripX=r=>1254.8+r*(893.2/1513);

const NS="http://www.w3.org/2000/svg";
function mk(parent,tag,attrs,txt){
  const e=document.createElementNS(NS,tag);
  for(const k in attrs)e.setAttribute(k,attrs[k]);
  if(txt!==undefined)e.textContent=txt;
  parent.appendChild(e);
  return e;
}
const G=id=>document.getElementById(id);
const fmtTick=v=>String(v).replace('-','\u2212');

function drawDots(g,pts,sx,sy,fill,stroke,name){
  for(const p of pts){
    const c=mk(g,'circle',{cx:sx(p[0]).toFixed(1),cy:sy(p[1]).toFixed(1),r:stroke?6.9:7.4,fill:fill});
    if(stroke){c.setAttribute('stroke',stroke);c.setAttribute('stroke-width','1.2');}
    
    
  }
}
function expandRows(rows){
  const out=[];
  for(const r of rows)for(const x of r[1])out.push([x,r[0]]);
  return out;
}
function xAxis(g,ticks,sx,yBase,labelY,size,fill,prefix){
  for(const t of ticks){
    const l=mk(g,'line',{x1:sx(t),x2:sx(t),y1:yBase,y2:yBase+8,stroke:'#333','stroke-width':2});
    
    
    const s=mk(g,'text',{x:sx(t),y:labelY,'font-size':size,fill:fill,'text-anchor':'middle'},fmtTick(t));
    
    
  }
}
function yAxis(g,ticks,sy,xBase,len,labelX,size,fill,prefix,fmt){
  for(const t of ticks){
    const l=mk(g,'line',{x1:xBase-len,x2:xBase,y1:sy(t),y2:sy(t),stroke:'#333','stroke-width':2});
    
    
    const s=mk(g,'text',{x:labelX,y:sy(t)+size*0.36,'font-size':size,fill:fill,'text-anchor':'end'},fmt?fmt(t):fmtTick(t));
    
    
  }
}
function drawCurve(g,pts,sy,color,name){
  const d=pts.map((p,i)=>(i?'L':'M')+rankX(p[0]).toFixed(1)+' '+sy(p[1]).toFixed(1)).join('');
  const c=mk(g,'path',{d:d,fill:'none',stroke:color,'stroke-width':3.6,'stroke-linejoin':'round'});
  
  
}
const bandColors=['#b84247','#c5676d','#d59398','#e7bcc0','#f2e5e7','#e9edf1','#bad0e2','#8fb1d2','#5f92c2','#3f6fac'];
function drawStrip(g,ticks,bands,startColor,color,top,bandTop,bottom,name){
  for(let i=0;i<bands.length-1;i++){
    const b=mk(g,'rect',{x:stripX(bands[i]).toFixed(1),y:bandTop,width:(stripX(bands[i+1])-stripX(bands[i])+.4).toFixed(1),height:bottom-bandTop,fill:bandColors[startColor+i]});
    
    
  }
  for(const t of ticks){
    const x=stripX(t).toFixed(1);
    const l=mk(g,'line',{x1:x,x2:x,y1:top,y2:bandTop,stroke:color,'stroke-width':2.6,'stroke-opacity':.95});
    
    
    const s=mk(g,'line',{x1:x,x2:x,y1:bandTop,y2:bottom,stroke:'#30202a','stroke-width':2.6,'stroke-opacity':.18});
    
    
  }
  const f=mk(g,'rect',{x:1254.8,y:top,width:893.2,height:bottom-top,fill:'none',stroke:'#444','stroke-width':2});
  
  
}
function drawTable(g,cols,rows,header,body,name){
  const bg=mk(g,'rect',{x:cols[0][0]-2,y:rows[0][0]-2,width:cols[2][1]-cols[0][0]+4,height:rows[rows.length-1][1]-rows[0][0]+4,fill:'#fff'});
  
  
  const all=[header].concat(body);
  for(let r=0;r<all.length;r++){
    for(let c=0;c<3;c++){
      const fill=r===0?'#c2c2c2':(r%2===1?'#f1f1f1':'#e3e3e3');
      const cell=mk(g,'rect',{x:cols[c][0],y:rows[r][0],width:cols[c][1]-cols[c][0],height:rows[r][1]-rows[r][0],fill:fill});
      
      
      const t=mk(g,'text',{x:(cols[c][0]+cols[c][1])/2,y:rows[r][0]+27.8,'text-anchor':'middle','font-size':r===0?27:26,'font-weight':r===0?'bold':'normal',fill:'#000'},all[r][c]);
      
      
    }
  }
}

/* ===== render panel A ===== */
drawDots(G('a-marks'),aGrey,axA,ayA,'#bdbdbd',null,'a-point-not-change');
drawDots(G('a-marks'),expandRows(aGreyRows),axA,ayA,'#bdbdbd',null,'a-point-not-change');
drawDots(G('a-marks'),aDown,axA,ayA,'#9fdcec','#3fa9c4','a-point-down');
drawDots(G('a-marks'),aUp,axA,ayA,'#f7b3b0','#e88a92','a-point-up');
xAxis(G('a-axes'),aXTicks,axA,798.3,833,28,'#000','a');
yAxis(G('a-axes'),aYTicks,ayA,111,7,93,28,'#000','a');

/* ===== render panel B ===== */
const envelope=mk(G('b-marks'),'path',{d:bGreyEnvelope.map((p,i)=>(i?'L':'M')+axB(p[0]).toFixed(1)+' '+ayB(p[1]).toFixed(1)).join('')+'Z',fill:'#bdbdbd',stroke:'#bdbdbd','stroke-width':14,'stroke-linejoin':'round'});


drawDots(G('b-marks'),expandRows(bGreyRows),axB,ayB,'#bdbdbd',null,'b-point-not-change');
drawDots(G('b-marks'),bGreySparse,axB,ayB,'#bdbdbd',null,'b-point-not-change');
drawDots(G('b-marks'),bDown,axB,ayB,'#b9e3ec','#3fa9c4','b-point-down');
drawDots(G('b-marks'),expandRows(bDownRows),axB,ayB,'#b9e3ec','#3fa9c4','b-point-down');
drawDots(G('b-marks'),expandRows(bUpRows),axB,ayB,'#f7b3b0','#e88a92','b-point-up');
drawDots(G('b-marks'),bUpSparse,axB,ayB,'#f7b3b0','#e88a92','b-point-up');
xAxis(G('b-axes'),bXTicks,axB,1721.7,1755.7,28,'#000','b');
yAxis(G('b-axes'),bYTicks,ayB,109,8,91,28,'#000','b');

/* ===== render panel C ===== */
drawCurve(G('c-curves'),cActivation,ayC,'#7cba9f','c-curve-activation');
drawCurve(G('c-curves'),cProliferation,ayC,'#9a67a2','c-curve-proliferation');
drawCurve(G('c-curves'),cDifferentiation,ayC,'#e8474c','c-curve-differentiation');
yAxis(G('c-axes'),cYTicks,ayC,1254.7,12,1234,31,'#4d4d4d','c',v=>v.toFixed(1));
drawStrip(G('c-strips'),cStripActivation,cBandActivation,1,'#7fbfa4',667,692.3,703.3,'c-strip-activation');
drawStrip(G('c-strips'),cStripDifferentiation,cBandDifferentiation,0,'#ea5054',712.3,737.7,748.3,'c-strip-differentiation');
drawStrip(G('c-strips'),cStripProliferation,cBandProliferation,1,'#a070a8',757.7,782.7,794,'c-strip-proliferation');
drawTable(G('c-table'),[[1299,1380.3],[1383,1499.3],[1502,1720]],[[453.3,490],[492.7,529.3],[532.3,569.3],[572,609]],cTableHeader,cTableRows,'c-table');

/* ===== render panel D ===== */
drawCurve(G('d-curves'),dInterferon,ayD,'#7cba9f','d-curve-interferon');
drawCurve(G('d-curves'),dReceptor,ayD,'#e8474c','d-curve-receptor');
yAxis(G('d-axes'),dYTicks,ayD,1254.7,12,1234,31,'#4d4d4d','d',v=>v.toFixed(1));
drawStrip(G('d-strips'),dStripInterferon,dBandInterferon,0,'#7fbfa4',1580.7,1622,1639,'d-strip-interferon');
drawStrip(G('d-strips'),dStripReceptor,dBandReceptor,0,'#ea5054',1649,1689.3,1707,'d-strip-receptor');
drawTable(G('d-table'),[[1300,1381],[1384,1499],[1503,1722]],[[1407,1444],[1447,1484],[1486,1523]],dTableHeader,dTableRows,'d-table');
</script>
</body>
</html>
